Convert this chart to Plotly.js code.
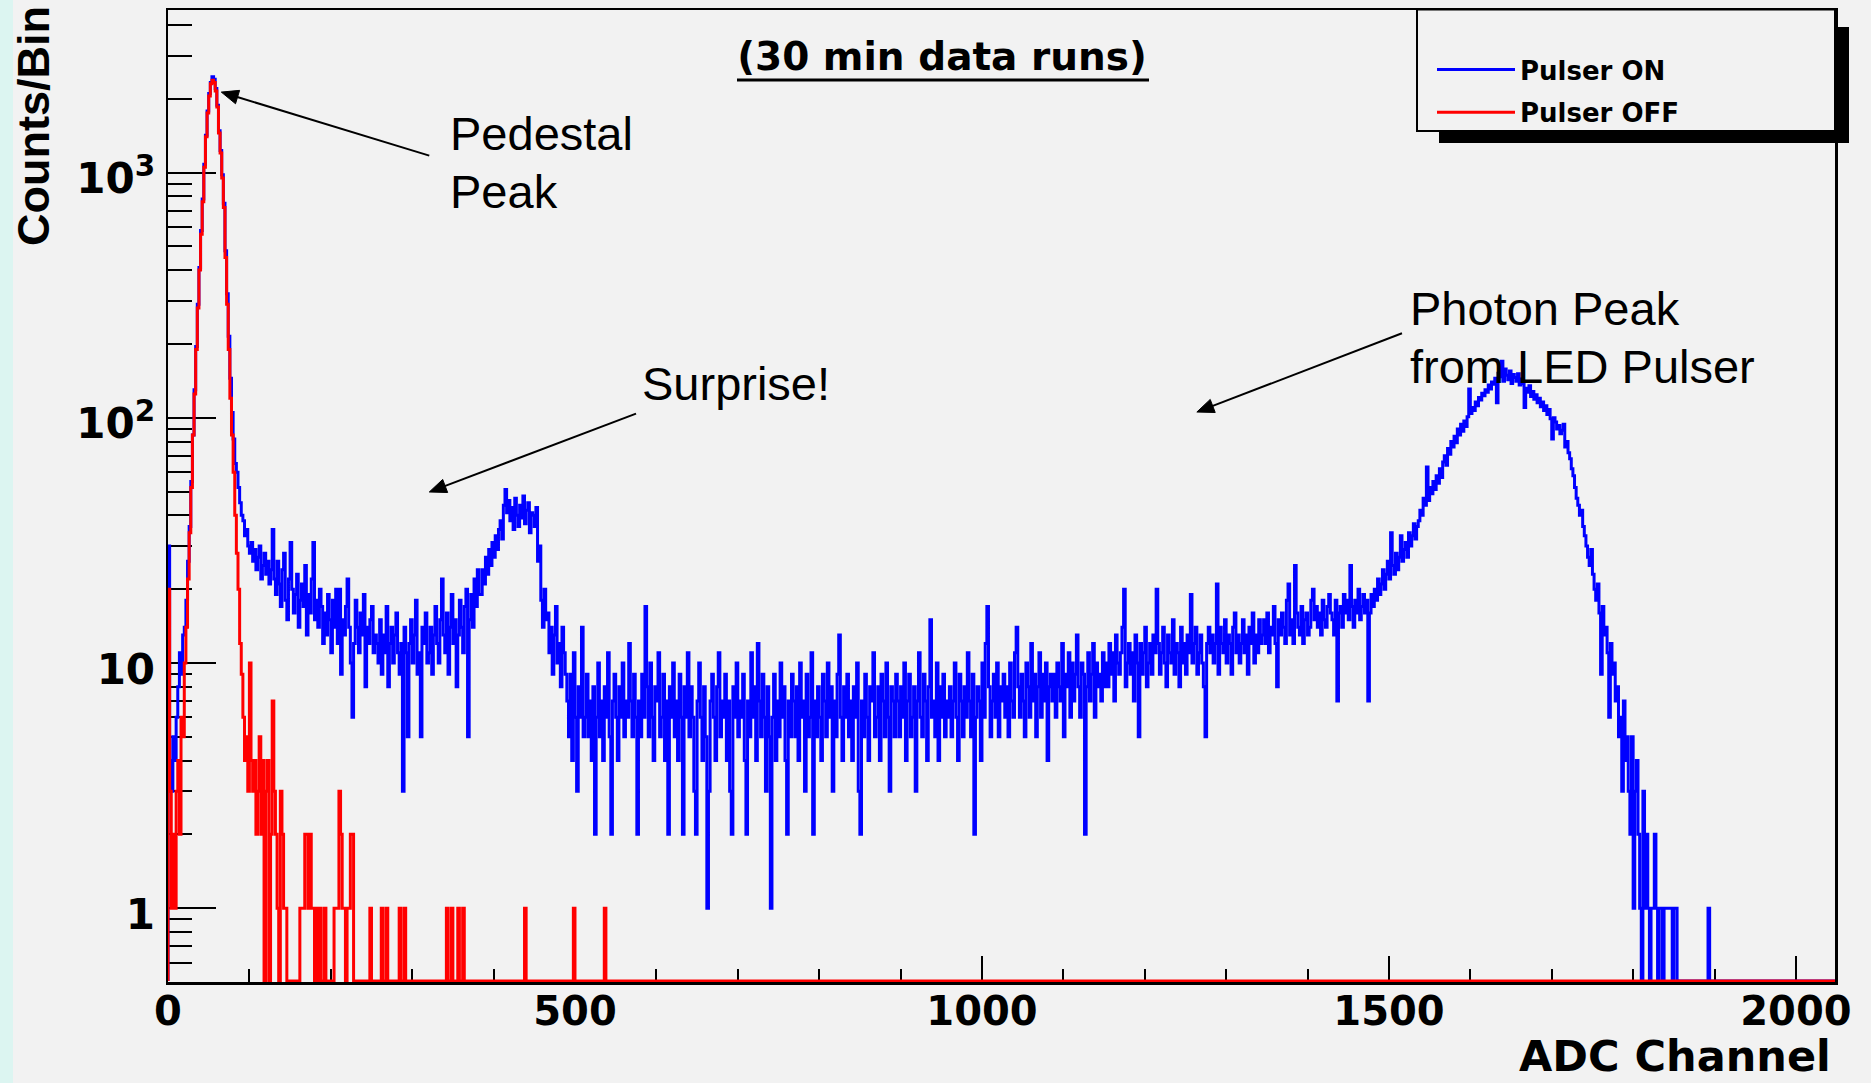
<!DOCTYPE html>
<html>
<head>
<meta charset="utf-8">
<script src="https://cdn.plot.ly/plotly-3.0.1.min.js"></script>
<style>
html,body{margin:0;padding:0;background:#f2f2f2;}
#chart{width:1871px;height:1083px;}
</style>
</head>
<body>
<div id="chart"></div>
<script>
// ---- data: counts per bin (bin width = 2 ADC channels, 1024 bins) ----
const BIN_WIDTH = 2;
const seriesNames = ['Pulser ON', 'Pulser OFF'];

const pulserOn = [
30,4,3,5,4,6,8,11,9,13,14,18,26,36,55,85,130,195,290,410,580,780,1080,1420,1780,2100,2330,2460,2400,2200,1880,1480,
1230,980,750,480,320,215,145,105,82,65,60,52,45,40,38,33,35,30,28,31,26,29,24,27,30,22,25,28,23,26,21,24,
35,22,19,26,21,17,24,28,18,15,22,31,20,16,19,23,14,18,21,17,25,13,19,16,22,31,15,18,14,20,17,12,
16,13,19,15,11,18,14,20,12,20,9,15,13,17,22,14,10,6,12,18,14,11,16,13,19,8,14,12,15,17,11,13,
12,10,15,9,13,11,17,8,12,14,10,13,16,11,9,12,3,14,11,5,12,15,10,13,18,9,11,5,14,12,16,10,
11,14,9,13,17,12,10,15,22,13,11,16,9,14,19,12,15,8,13,18,14,11,17,20,5,15,19,14,22,17,24,19,
19,24,21,27,23,29,25,31,27,33,29,35,38,32,44,51,41,46,38,43,35,47,40,36,44,39,48,37,42,45,34,41,
40,36,43,26,30,18,14,20,15,16,11,14,9,13,17,10,12,8,14,11,9,7,5,9,4,11,6,3,8,6,14,5,
6,9,5,7,4,8,2,6,10,5,7,4,8,6,11,5,2,7,9,6,4,8,6,10,5,7,6,12,7,5,9,6,
2,7,5,9,6,17,8,5,10,6,4,8,7,11,5,6,9,4,7,2,8,6,10,5,7,4,9,6,2,8,6,11,
5,8,6,3,2,7,10,6,4,8,5,1,3,7,9,6,4,8,11,5,7,6,9,4,7,3,2,8,6,10,5,7,
6,9,4,2,7,5,11,6,8,4,12,7,5,9,6,3,8,5,1,6,9,4,7,5,10,6,8,4,2,7,5,9,
7,5,8,4,10,6,7,3,9,5,6,11,2,7,5,8,6,4,9,7,5,10,6,8,3,7,5,9,13,6,4,8,
6,9,5,7,4,8,6,10,3,2,7,5,9,6,4,8,7,11,5,6,8,4,9,7,5,10,6,3,8,7,5,9,
7,5,8,6,10,4,7,9,5,6,8,3,7,11,6,5,9,7,4,8,15,6,7,5,10,4,8,6,9,5,7,6,
8,5,7,10,6,4,9,7,5,8,6,11,7,5,9,2,6,8,7,4,10,6,12,17,8,5,7,9,6,10,5,8,
7,9,6,8,5,10,7,6,11,14,8,6,9,7,5,10,8,6,12,7,9,5,8,11,6,9,7,10,4,8,9,7,
9,6,10,8,7,12,5,9,8,11,6,10,7,9,13,8,6,10,9,2,8,11,7,9,12,6,10,8,9,7,11,8,
10,8,12,9,11,7,13,10,9,11,14,20,8,10,12,9,11,7,13,10,5,12,9,11,14,8,10,12,9,13,11,20,
12,9,11,14,10,8,13,11,10,15,9,12,11,8,14,10,12,9,13,11,19,10,12,14,9,11,13,10,8,5,12,14,
11,13,10,12,21,9,14,12,11,15,10,13,12,9,14,16,11,13,10,12,15,11,13,9,14,12,16,10,13,11,15,12,
13,15,12,16,11,14,13,17,12,8,15,13,16,14,12,18,21,13,15,12,25,16,14,13,17,12,15,16,13,14,18,20,
15,17,14,16,13,18,15,14,17,19,16,15,13,18,7,16,17,14,19,16,18,15,25,17,14,18,16,20,15,17,19,16,
18,7,16,19,17,20,18,22,19,21,24,20,23,26,22,34,25,23,28,24,27,33,26,29,31,27,34,30,33,37,32,36,
38,42,40,47,44,63,46,52,49,55,51,58,54,62,57,66,70,64,75,71,80,76,84,79,90,85,94,88,97,92,101,131,
104,110,107,116,112,121,118,126,123,130,127,136,131,140,137,145,115,152,147,170,141,158,149,143,155,138,150,146,141,151,136,144,
138,110,132,127,135,122,128,119,124,115,120,111,116,107,112,103,108,99,82,100,96,90,93,86,89,94,76,80,72,68,62,58,
52,47,44,40,42,36,33,30,27,25,29,23,20,18,21,16,9,17,13,14,11,6,12,9,10,7,8,5,6,3,7,4,
5,3,2,5,1,3,4,2,1,0,3,1,2,1,0,1,1,2,1,0,1,1,0,1,1,1,1,1,0,1,1,0,
0,0,0,0,0,0,0,0,0,0,0,0,0,0,0,0,0,0,1,0,0,0,0,0,0,0,0,0,0,0,0,0,
0,0,0,0,0,0,0,0,0,0,0,0,0,0,0,0,0,0,0,0,0,0,0,0,0,0,0,0,0,0,0,0,
0,0,0,0,0,0,0,0,0,0,0,0,0,0,0,0,0,0,0,0,0,0,0,0,0,0,0,0,0,0,0,0
];

const pulserOff = [
20,3,1,2,1,3,4,2,6,5,10,14,22,34,52,85,125,190,280,400,560,760,1050,1400,1750,2050,2300,2380,2330,2150,1850,1450,
1200,950,720,450,290,190,120,85,60,40,28,20,12,9,6,4,5,3,10,4,3,4,2,3,5,2,4,0,3,4,0,2,
7,3,2,1,0,3,2,1,1,0,0,0,0,0,0,0,0,1,1,1,2,2,1,2,1,1,0,1,0,1,0,0,
1,0,0,0,0,0,1,1,1,3,2,1,1,0,1,1,2,2,0,0,0,0,0,0,0,0,0,0,1,0,0,0,
0,0,0,1,0,0,1,0,0,0,0,0,0,0,1,0,0,1,0,0,0,0,0,0,0,0,0,0,0,0,0,0,
0,0,0,0,0,0,0,0,0,0,0,1,0,0,1,0,0,0,1,0,0,1,0,0,0,0,0,0,0,0,0,0,
0,0,0,0,0,0,0,0,0,0,0,0,0,0,0,0,0,0,0,0,0,0,0,0,0,0,0,1,0,0,0,0,
0,0,0,0,0,0,0,0,0,0,0,0,0,0,0,0,0,0,0,0,0,0,0,0,0,1,0,0,0,0,0,0,
0,0,0,0,0,0,0,0,0,0,0,0,1,0,0,0,0,0,0,0,0,0,0,0,0,0,0,0,0,0,0,0,
0,0,0,0,0,0,0,0,0,0,0,0,0,0,0,0,0,0,0,0,0,0,0,0,0,0,0,0,0,0,0,0,
0,0,0,0,0,0,0,0,0,0,0,0,0,0,0,0,0,0,0,0,0,0,0,0,0,0,0,0,0,0,0,0,
0,0,0,0,0,0,0,0,0,0,0,0,0,0,0,0,0,0,0,0,0,0,0,0,0,0,0,0,0,0,0,0,
0,0,0,0,0,0,0,0,0,0,0,0,0,0,0,0,0,0,0,0,0,0,0,0,0,0,0,0,0,0,0,0,
0,0,0,0,0,0,0,0,0,0,0,0,0,0,0,0,0,0,0,0,0,0,0,0,0,0,0,0,0,0,0,0,
0,0,0,0,0,0,0,0,0,0,0,0,0,0,0,0,0,0,0,0,0,0,0,0,0,0,0,0,0,0,0,0,
0,0,0,0,0,0,0,0,0,0,0,0,0,0,0,0,0,0,0,0,0,0,0,0,0,0,0,0,0,0,0,0,
0,0,0,0,0,0,0,0,0,0,0,0,0,0,0,0,0,0,0,0,0,0,0,0,0,0,0,0,0,0,0,0,
0,0,0,0,0,0,0,0,0,0,0,0,0,0,0,0,0,0,0,0,0,0,0,0,0,0,0,0,0,0,0,0,
0,0,0,0,0,0,0,0,0,0,0,0,0,0,0,0,0,0,0,0,0,0,0,0,0,0,0,0,0,0,0,0,
0,0,0,0,0,0,0,0,0,0,0,0,0,0,0,0,0,0,0,0,0,0,0,0,0,0,0,0,0,0,0,0,
0,0,0,0,0,0,0,0,0,0,0,0,0,0,0,0,0,0,0,0,0,0,0,0,0,0,0,0,0,0,0,0,
0,0,0,0,0,0,0,0,0,0,0,0,0,0,0,0,0,0,0,0,0,0,0,0,0,0,0,0,0,0,0,0,
0,0,0,0,0,0,0,0,0,0,0,0,0,0,0,0,0,0,0,0,0,0,0,0,0,0,0,0,0,0,0,0,
0,0,0,0,0,0,0,0,0,0,0,0,0,0,0,0,0,0,0,0,0,0,0,0,0,0,0,0,0,0,0,0,
0,0,0,0,0,0,0,0,0,0,0,0,0,0,0,0,0,0,0,0,0,0,0,0,0,0,0,0,0,0,0,0,
0,0,0,0,0,0,0,0,0,0,0,0,0,0,0,0,0,0,0,0,0,0,0,0,0,0,0,0,0,0,0,0,
0,0,0,0,0,0,0,0,0,0,0,0,0,0,0,0,0,0,0,0,0,0,0,0,0,0,0,0,0,0,0,0,
0,0,0,0,0,0,0,0,0,0,0,0,0,0,0,0,0,0,0,0,0,0,0,0,0,0,0,0,0,0,0,0,
0,0,0,0,0,0,0,0,0,0,0,0,0,0,0,0,0,0,0,0,0,0,0,0,0,0,0,0,0,0,0,0,
0,0,0,0,0,0,0,0,0,0,0,0,0,0,0,0,0,0,0,0,0,0,0,0,0,0,0,0,0,0,0,0,
0,0,0,0,0,0,0,0,0,0,0,0,0,0,0,0,0,0,0,0,0,0,0,0,0,0,0,0,0,0,0,0,
0,0,0,0,0,0,0,0,0,0,0,0,0,0,0,0,0,0,0,0,0,0,0,0,0,0,0,0,0,0,0,0
];

const xTickVals = [0, 500, 1000, 1500, 2000];
const yTickVals = [1, 10, 100, 1000];
const yTickText = ['1', '10', '10<sup>2</sup>', '10<sup>3</sup>'];
const X_MAX = 2048;
const Y_MIN = 0.5, Y_MAX = 4600;

// Annotation texts and arrows (data coordinates: ADC channel, counts)
const titleText = '(30 min data runs)';
const labelTexts = ['Pedestal', 'Peak', 'Surprise!', 'Photon Peak', 'from LED Pulser'];
const arrows = [
  {tip: [65.5, 2128], tail: [321, 1172]},
  {tip: [321, 49.8], tail: [575, 104]},
  {tip: [1264, 105.5], tail: [1516, 221]}
];

// ---- layout geometry (pixels) ----
const W = 1871, H = 1083;
const M = {l: 168, r: 36, t: 10, b: 101};
const PW = W - M.l - M.r, PH = H - M.t - M.b;
const px = x => (x - M.l) / PW;          // pixel x -> paper x
const py = y => (H - M.b - y) / PH;      // pixel y -> paper y
const LOG_MIN = Math.log10(Y_MIN), LOG_MAX = Math.log10(Y_MAX);
// data -> paper (used only for the annotation arrows)
const dataToPaper = (ch, cnt) => [ch / X_MAX, (Math.log10(cnt) - LOG_MIN) / (LOG_MAX - LOG_MIN)];

const ZERO_LEVEL = Y_MIN * 1.01; // empty bins drawn on the bottom frame (ROOT style)

function stepLine(vals) {
  const x = [0], y = [ZERO_LEVEL];
  vals.forEach((v, i) => { x.push(i * BIN_WIDTH); y.push(v > 0 ? v : ZERO_LEVEL); });
  const last = vals[vals.length - 1];
  x.push(vals.length * BIN_WIDTH); y.push(last > 0 ? last : ZERO_LEVEL);
  x.push(vals.length * BIN_WIDTH); y.push(ZERO_LEVEL);
  return {x, y};
}

const onLine = stepLine(pulserOn);
const offLine = stepLine(pulserOff);

const minorY = [];
[0.1, 1, 10, 100, 1000].forEach(d => {
  for (let m = 2; m <= 9; m++) {
    const v = m * d;
    if (v > Y_MIN && v < Y_MAX) minorY.push(v);
  }
});

const boldFont = (size) => ({family: 'DejaVu Sans', size: size, weight: 'bold', color: '#000'});
const textFont = {family: 'Liberation Sans, Arial', size: 47, color: '#000'};

const traces = [
  {x: onLine.x, y: onLine.y, type: 'scatter', mode: 'lines', name: seriesNames[0], legendgroup: 'on',
   line: {color: '#0000ff', width: 3, shape: 'hv'}, hoverinfo: 'skip'},
  {x: offLine.x, y: offLine.y, type: 'scatter', mode: 'lines', name: seriesNames[1], legendgroup: 'off',
   line: {color: '#ff0000', width: 3, shape: 'hv'}, hoverinfo: 'skip'},
  {x: [null], y: [null], yaxis: 'y2', type: 'scatter', mode: 'lines', showlegend: false, hoverinfo: 'skip'}
];

const annotations = [
  {text: labelTexts[0], x: px(448), y: py(134)},
  {text: labelTexts[1], x: px(448), y: py(191)},
  {text: labelTexts[2], x: px(640), y: py(383)},
  {text: labelTexts[3], x: px(1408), y: py(309)},
  {text: labelTexts[4], x: px(1408), y: py(366)}
].map(a => Object.assign({xref: 'paper', yref: 'paper', showarrow: false, xanchor: 'left', yanchor: 'middle', font: textFont}, a));

annotations.push({text: 'Counts/Bin', xref: 'paper', yref: 'paper', x: px(33), y: py(126),
  textangle: -90, showarrow: false, xanchor: 'center', yanchor: 'middle',
  font: {family: 'Liberation Sans, Arial', size: 45, weight: 'bold', color: '#000'}});
annotations.push({text: 'ADC Channel', xref: 'paper', yref: 'paper', x: px(1833), y: py(H),
  showarrow: false, xanchor: 'right', yanchor: 'bottom', font: boldFont(43)});

const shapes = [
  {type: 'rect', xref: 'paper', yref: 'paper', x0: px(0), x1: px(13), y0: py(H), y1: py(0),
   fillcolor: '#dcf5f1', line: {width: 0}, layer: 'below'},
  // title underline
  {type: 'line', xref: 'paper', yref: 'paper', x0: px(737), x1: px(1149), y0: py(80), y1: py(80),
   line: {color: '#000', width: 3}},
  // legend box with ROOT-style shadow
  {type: 'rect', xref: 'paper', yref: 'paper', x0: px(1439), x1: px(1849), y0: py(143), y1: py(27),
   fillcolor: '#000', line: {width: 0}},
  {type: 'rect', xref: 'paper', yref: 'paper', x0: px(1417), x1: px(1835), y0: py(131), y1: py(9.5),
   fillcolor: '#f2f2f2', line: {color: '#000', width: 2}}
];

// annotation arrows: line + filled triangular head
const HEAD_LEN = 17, HEAD_HALF = 7;
arrows.forEach(a => {
  const [tx, ty] = dataToPaper(a.tip[0], a.tip[1]);
  const [sx, sy] = dataToPaper(a.tail[0], a.tail[1]);
  const TX = tx * PW, TY = -ty * PH, SX = sx * PW, SY = -sy * PH;
  const dx = TX - SX, dy = TY - SY, len = Math.hypot(dx, dy);
  const ux = dx / len, uy = dy / len;
  const BX = TX - ux * HEAD_LEN, BY = TY - uy * HEAD_LEN;
  const P1 = [BX - uy * HEAD_HALF, BY + ux * HEAD_HALF];
  const P2 = [BX + uy * HEAD_HALF, BY - ux * HEAD_HALF];
  const toP = (X, Y) => `${(X / PW).toFixed(5)},${(-Y / PH).toFixed(5)}`;
  shapes.push({type: 'line', xref: 'paper', yref: 'paper', x0: sx, y0: sy,
    x1: (BX + ux * 2) / PW, y1: -(BY + uy * 2) / PH, line: {color: '#000', width: 2}});
  shapes.push({type: 'path', xref: 'paper', yref: 'paper',
    path: `M${toP(TX, TY)} L${toP(P1[0], P1[1])} L${toP(P2[0], P2[1])} Z`,
    fillcolor: '#000', line: {color: '#000', width: 1}});
});

const layout = {
  width: W, height: H,
  margin: M,
  paper_bgcolor: '#f2f2f2', plot_bgcolor: '#f2f2f2',
  showlegend: true,
  title: {text: titleText, font: boldFont(39),
          x: 942 / W, xref: 'container', xanchor: 'center',
          y: 1 - 56 / H, yref: 'container', yanchor: 'middle'},
  xaxis: {range: [0, X_MAX], tickmode: 'array', tickvals: xTickVals,
          ticks: 'inside', ticklen: 26, tickwidth: 2, tickcolor: '#000',
          minor: {dtick: 100, tick0: 0, ticks: 'inside', ticklen: 13, tickwidth: 2, tickcolor: '#000', showgrid: false},
          showline: true, linecolor: '#000', linewidth: 2.5, mirror: true,
          showgrid: false, zeroline: false, layer: 'below traces',
          tickfont: boldFont(40), ticklabelstandoff: -8},
  yaxis: {type: 'log', range: [LOG_MIN, LOG_MAX],
          tickmode: 'array', tickvals: yTickVals, ticktext: yTickText,
          ticks: 'inside', ticklen: 48, tickwidth: 2, tickcolor: '#000',
          showline: true, linecolor: '#000', linewidth: 2.5, mirror: true,
          showgrid: false, zeroline: false, layer: 'below traces',
          tickfont: boldFont(42), ticklabelstandoff: 2, ticklabelshift: 6},
  yaxis2: {type: 'log', overlaying: 'y', side: 'left', anchor: 'x',
           range: [LOG_MIN, LOG_MAX],
           tickmode: 'array', tickvals: minorY, showticklabels: false,
           ticks: 'inside', ticklen: 24, tickwidth: 2, tickcolor: '#000',
           showline: false, showgrid: false, zeroline: false, layer: 'below traces'},
  legend: {x: px(1432), y: py(46), xanchor: 'left', yanchor: 'top',
           bgcolor: 'rgba(0,0,0,0)', borderwidth: 0, font: boldFont(26),
           itemwidth: 78, tracegroupgap: 6},
  annotations: annotations,
  shapes: shapes
};

Plotly.newPlot('chart', traces, layout, {displayModeBar: false, staticPlot: true});
</script>
</body>
</html>
